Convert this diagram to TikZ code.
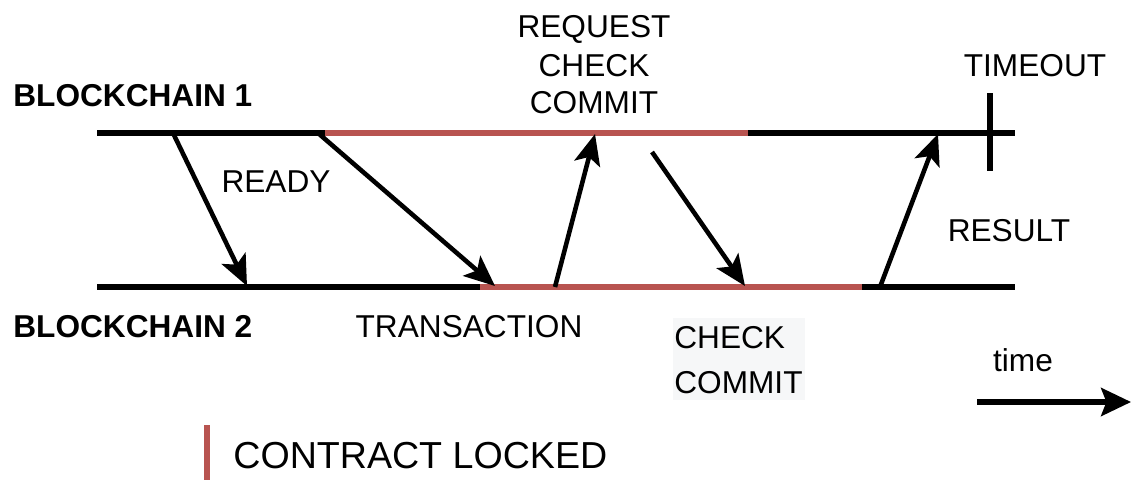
\documentclass[tikz,border=0pt]{standalone}
\usepackage{fontspec}
\setmainfont{Liberation Sans}
\usetikzlibrary{arrows.meta}
\definecolor{lockred}{HTML}{B85450}
\definecolor{notebg}{HTML}{F6F7F8}
\tikzset{
  chain/.style={line width=2.9pt, line cap=butt},
  locked/.style={chain, draw=lockred},
  msg/.style={line width=2.6pt, -{Stealth[length=17.5pt, width=15pt, inset=4pt]}},
  lbl/.style={inner sep=0pt, anchor=base, font=\fontsize{18}{21.5}\selectfont},
  title/.style={lbl, anchor=base west, font=\fontsize{18}{21.5}\selectfont\bfseries},
}
\begin{document}
\begin{tikzpicture}[x=0.02cm, y=-0.02cm]
\useasboundingbox (0,0) rectangle (1132,480);

% time lines of both chains
\coordinate (t1s) at (97,133);   \coordinate (t1e) at (1015,133);
\coordinate (l1s) at (325,133);  \coordinate (l1e) at (748,133);
\coordinate (t2s) at (97,287);   \coordinate (t2e) at (1015,287);
\coordinate (l2s) at (480,287);  \coordinate (l2e) at (862,287);
\draw[chain] (t1s) -- (t1e);
\draw[chain] (t2s) -- (t2e);
\draw[locked] (l1s) -- (l1e);
\draw[locked] (l2s) -- (l2e);

% timeout tick
\coordinate (tot) at (990,93);
\coordinate (tob) at (990,171);
\draw[chain] (tot) -- (tob);

% message endpoints
\coordinate (a1) at (173,133);  \coordinate (b1) at (247,286);
\coordinate (a2) at (318,133);  \coordinate (b2) at (495,286);
\coordinate (a3) at (555,287);  \coordinate (b3) at (595,134);
\coordinate (a4) at (652,152);  \coordinate (b4) at (745,286);
\coordinate (a5) at (880,287);  \coordinate (b5) at (938,134);
\draw[msg] (a1) -- (b1);
\draw[msg] (a2) -- (b2);
\draw[msg] (a3) -- (b3);
\draw[msg] (a4) -- (b4);
\draw[msg] (a5) -- (b5);

% labels
\node[title] (bc1) at (13,106) {BLOCKCHAIN 1};
\node[title] (bc2) at (13,337) {BLOCKCHAIN 2};
\node[lbl] (ready) at (276,192) {READY};
\node[lbl] (req1) at (594,37) {REQUEST};
\node[lbl] (req2) at (594,76) {CHECK};
\node[lbl] (req3) at (594,113) {COMMIT};
\node[lbl] (timeout) at (1035,76) {TIMEOUT};
\node[lbl] (result) at (1009,241) {RESULT};
\node[lbl] (trans) at (469,337) {TRANSACTION};
\fill[notebg] (673,318) rectangle (805,400);
\node[lbl, anchor=base west] (cc1) at (674,348) {CHECK};
\node[lbl, anchor=base west] (cc2) at (674,393) {COMMIT};
\node[lbl] (timelbl) at (1023,371) {time};

% time direction
\coordinate (ts) at (977,402);
\coordinate (te) at (1131,402);
\draw[line width=2.9pt, -{Stealth[length=17pt, width=16pt, inset=3pt]}] (ts) -- (te);

% legend
\coordinate (kt) at (207,425);
\coordinate (kb) at (207,480);
\draw[lockred, line width=3.4pt] (kt) -- (kb);
\node[inner sep=0pt, anchor=base west, font=\fontsize{21.4}{25}\selectfont] (legend) at (233,468) {CONTRACT LOCKED};
\end{tikzpicture}
\end{document}
